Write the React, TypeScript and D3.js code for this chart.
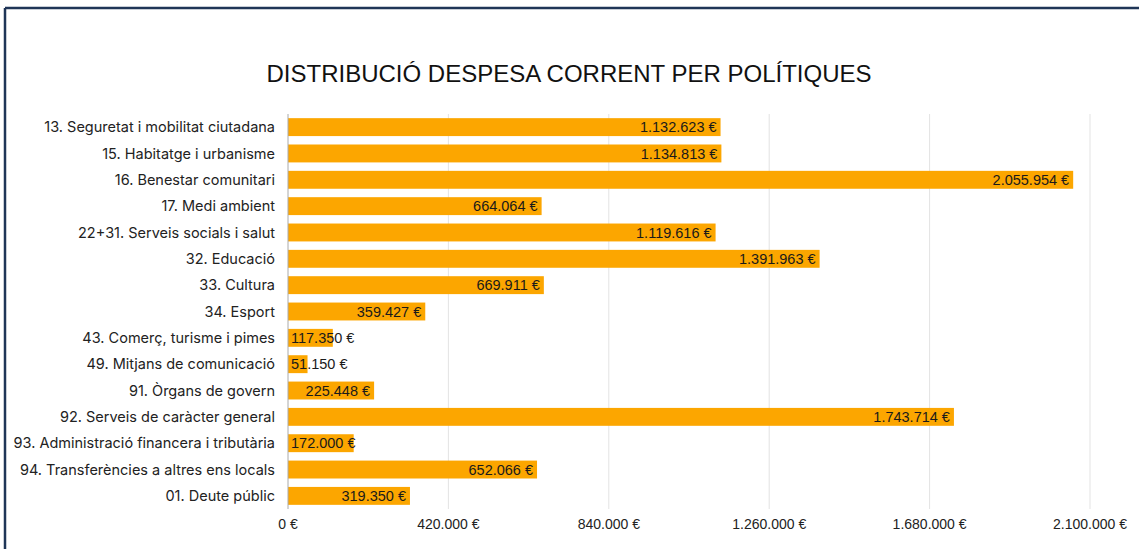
import React from "react";
import * as d3 from "d3";

const categories = [
  "13. Seguretat i mobilitat ciutadana",
  "15. Habitatge i urbanisme",
  "16. Benestar comunitari",
  "17. Medi ambient",
  "22+31. Serveis socials i salut",
  "32. Educació",
  "33. Cultura",
  "34. Esport",
  "43. Comerç, turisme i pimes",
  "49. Mitjans de comunicació",
  "91. Òrgans de govern",
  "92. Serveis de caràcter general",
  "93. Administració financera i tributària",
  "94. Transferències a altres ens locals",
  "01. Deute públic",
];
const values = [
  1132623, 1134813, 2055954, 664064, 1119616, 1391963, 669911, 359427, 117350,
  51150, 225448, 1743714, 172000, 652066, 319350,
];
const ticks = [0, 420000, 840000, 1260000, 1680000, 2100000];
const title = "DISTRIBUCIÓ DESPESA CORRENT PER POLÍTIQUES";

const W = 1139;
const H = 549;
const left = 288;
const right = 1090;
const top = 114;
const bottom = 509;

const fmt = (v: number) => d3.format(",")(v).replace(/,/g, ".") + " €";

export default function App() {
  const x = d3.scaleLinear().domain([0, 2100000]).range([left, right]);
  const y = d3
    .scaleBand<string>()
    .domain(categories)
    .range([top + 1, bottom - 1])
    .paddingInner(0.32)
    .paddingOuter(0.12);
  const valFont = "'Liberation Sans', Arial, sans-serif";
  return (
    <svg
      width={W}
      height={H}
      style={{ position: "absolute", left: 0, top: 0, display: "block" }}
    >
      <rect x={0} y={0} width={W} height={H} fill="#fff" />
      <line x1={5} y1={8} x2={W} y2={8} stroke="#1f3557" strokeWidth={2.5} />
      <line x1={5} y1={8} x2={5} y2={H} stroke="#1f3557" strokeWidth={2.5} />
      <text
        x={569}
        y={82}
        textAnchor="middle"
        fontFamily={valFont}
        fontSize={24}
        fill="#111"
      >
        {title}
      </text>
      {ticks.slice(1).map((t) => (
        <line
          key={t}
          x1={x(t)}
          x2={x(t)}
          y1={top}
          y2={bottom}
          stroke="#e3e3e3"
          strokeWidth={1}
        />
      ))}
      {categories.map((c, i) => {
        const v = values[i];
        const by = y(c)!;
        const bh = y.bandwidth();
        const bw = x(v) - x(0);
        const label = fmt(v);
        const tw = label.length * 7.9;
        const fits = bw >= tw + 8;
        return (
          <g key={c}>
            <rect x={x(0)} y={by} width={bw} height={bh} fill="#fca600" />
            <text
              x={left - 13}
              y={by + bh / 2}
              dy="0.35em"
              textAnchor="end"
              fontFamily="Inter, 'Open Sans', sans-serif"
              fontSize={14.5}
              fill="#222"
            >
              {c}
            </text>
            <text
              x={fits ? x(v) - 4 : x(0) + 3}
              y={by + bh / 2}
              dy="0.36em"
              textAnchor={fits ? "end" : "start"}
              fontFamily={valFont}
              fontSize={14.5}
              fill="#1a1a1a"
            >
              {label}
            </text>
          </g>
        );
      })}
      <line
        x1={left}
        x2={left}
        y1={top}
        y2={bottom}
        stroke="#aaa"
        strokeWidth={1}
      />
      {ticks.map((t) => (
        <text
          key={t}
          x={x(t)}
          y={529}
          textAnchor="middle"
          fontFamily={valFont}
          fontSize={14}
          fill="#222"
        >
          {fmt(t)}
        </text>
      ))}
    </svg>
  );
}
